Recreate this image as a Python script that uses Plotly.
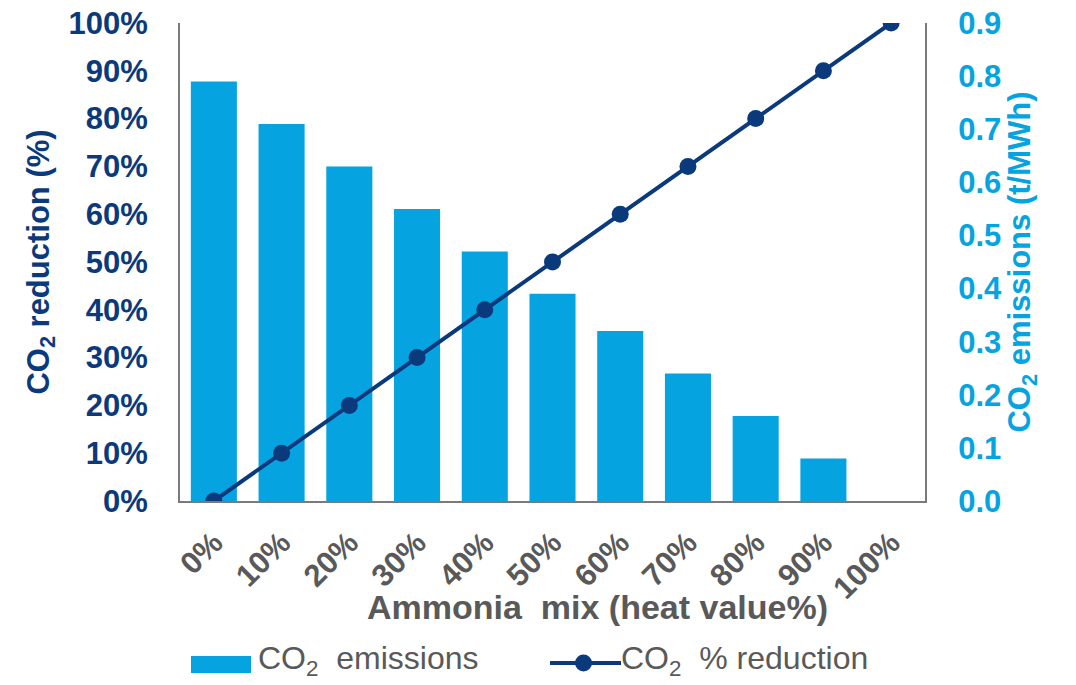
import plotly.graph_objects as go

# Ammonia co-firing share (heat value basis)
mix_labels = ["0%", "10%", "20%", "30%", "40%", "50%", "60%", "70%", "80%", "90%", "100%"]
# CO2 emission intensity, t/MWh
co2_emissions = [0.79, 0.71, 0.63, 0.55, 0.47, 0.39, 0.32, 0.24, 0.16, 0.08, 0.0]
# CO2 reduction relative to coal-only firing
co2_reduction = [0.0, 0.1, 0.2, 0.3, 0.4, 0.5, 0.6, 0.7, 0.8, 0.9, 1.0]

NAVY = "#0b3a7c"
SKY = "#06a3e1"
GREY = "#595959"
AXIS = "#7a7a7a"
FONT = "Liberation Sans, Arial, sans-serif"

W, H = 1076, 685
ML, MR, MT, MB = 180, 151, 23, 184
PW, PH = W - ML - MR, H - MT - MB


def px(x):
    """pixel column -> paper x"""
    return (x - ML) / PW


def py(y):
    """pixel row -> paper y"""
    return (H - MB - y) / PH


fig = go.Figure()
fig.add_trace(go.Bar(
    x=mix_labels, y=co2_emissions, name="CO2 emissions",
    marker=dict(color=SKY, line=dict(width=0)), width=0.68, yaxis="y",
))
fig.add_trace(go.Scatter(
    x=mix_labels, y=co2_reduction, name="CO2 % reduction",
    mode="lines+markers", line=dict(color=NAVY, width=4),
    marker=dict(color=NAVY, size=17), yaxis="y2",
))

bold = dict(family=FONT, weight="bold")

fig.update_layout(
    width=W, height=H,
    margin=dict(l=ML, r=MR, t=MT, b=MB, autoexpand=False),
    plot_bgcolor="white", paper_bgcolor="white",
    font=dict(family=FONT),
    showlegend=False,
    xaxis=dict(
        type="category", range=[-0.5, 10.5], showline=True, linecolor=AXIS,
        linewidth=2, ticks="", tickangle=-45, automargin=False,
        ticklabelstandoff=9,
        tickfont=dict(size=31, color=GREY, **bold),
        showgrid=False, zeroline=False,
    ),
    yaxis=dict(
        side="right", range=[0, 0.9], dtick=0.1, tickformat=".1f",
        showline=True, linecolor=AXIS, linewidth=2, showgrid=False, zeroline=False,
        ticks="", ticklabelstandoff=25, automargin=False,
        tickfont=dict(size=31, color=SKY, **bold),
        title=dict(text="CO<sub>2</sub> emissions (t/MWh)", standoff=2,
                   font=dict(size=31, color=SKY, **bold)),
    ),
    yaxis2=dict(
        overlaying="y", side="left", range=[0, 1.0], dtick=0.1, tickformat=".0%",
        showline=True, linecolor=AXIS, linewidth=2, showgrid=False, zeroline=False,
        ticks="", ticklabelstandoff=24, automargin=False,
        tickfont=dict(size=31, color=NAVY, **bold),
        title=dict(text="CO<sub>2</sub> reduction (%)", standoff=10,
                   font=dict(size=31, color=NAVY, **bold)),
    ),
)

# x-axis title
fig.add_annotation(
    text="Ammonia  mix (heat value%)", xref="paper", yref="paper",
    x=px(597), y=py(607), xanchor="center", yanchor="middle", showarrow=False,
    font=dict(size=34, color=GREY, **bold),
)

# legend row
leg_y = py(663)
fig.add_shape(type="rect", xref="paper", yref="paper",
              x0=px(191), x1=px(251), y0=py(673), y1=py(656),
              fillcolor=SKY, line=dict(width=0))
fig.add_annotation(
    text="CO<sub>2</sub>  emissions", xref="paper", yref="paper",
    x=px(256), y=py(660), xanchor="left", yanchor="middle", showarrow=False,
    font=dict(size=32, color=GREY, family=FONT),
)
fig.add_shape(type="line", xref="paper", yref="paper",
              x0=px(550), x1=px(621), y0=leg_y, y1=leg_y,
              line=dict(color=NAVY, width=4))
fig.add_shape(type="circle", xref="paper", yref="paper",
              x0=px(575), x1=px(592), y0=py(671.5), y1=py(654.5),
              fillcolor=NAVY, line=dict(width=0))
fig.add_annotation(
    text="CO<sub>2</sub>  % reduction", xref="paper", yref="paper",
    x=px(619), y=py(660), xanchor="left", yanchor="middle", showarrow=False,
    font=dict(size=32, color=GREY, family=FONT),
)

fig.write_html("out.html")
